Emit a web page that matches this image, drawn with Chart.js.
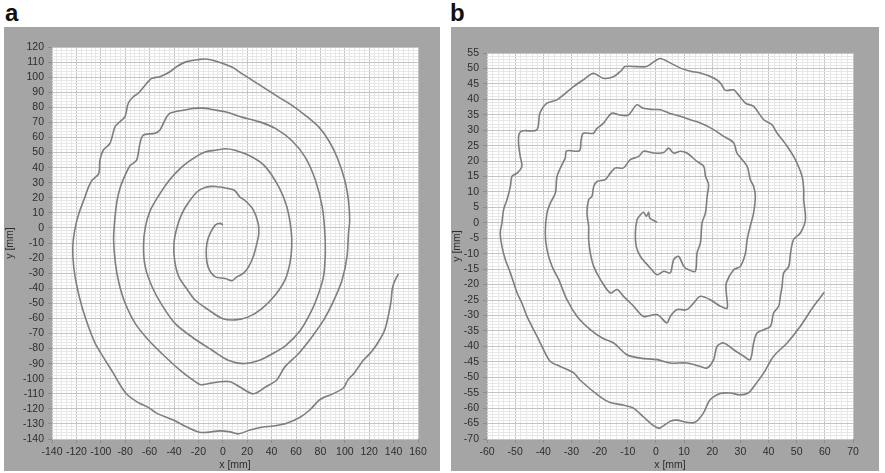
<!DOCTYPE html>
<html>
<head>
<meta charset="utf-8">
<script src="https://cdn.jsdelivr.net/npm/chart.js@4.4.1/dist/chart.umd.min.js"></script>
<style>
    body { margin: 0; width: 885px; height: 473px; position: relative; overflow: hidden; background: #fff; font-family: "Liberation Sans", Arial, sans-serif; }
    .painel { position: absolute; background: #a5a5a5; }
    .painel canvas { display: block; }
    .letra { position: absolute; font-size: 24px; line-height: 24px; font-weight: bold; color: #111; }
</style>
</head>
<body>
<div class="letra" style="left:5px; top:1px;">a</div>
<div class="letra" style="left:450px; top:1px;">b</div>
<div class="painel" style="left:4px; top:27px; width:436px; height:444px;"><canvas id="graficoA" width="436" height="444"></canvas></div>
<div class="painel" style="left:451px; top:27px; width:428px; height:444px;"><canvas id="graficoB" width="428" height="444"></canvas></div>

<script>
// === Dados (mm) ===
// Espiral a
const aX = [0, -2, -6, -10, -13, -13.5, -11.5, -6, 2, 7.5, 11.5, 17, 21, 25, 28, 29.5, 29, 25, 18.5, 14, 9.5, 2, -6, -14, -21, -28, -33.5, -37.5, -40, -39.5,
    -36, -29, -22.5, -11.5, -0.5, 10, 21, 32, 43, 51, 55, 56.5, 56, 52.5, 46, 35, 24, 10, 2, -6, -14, -22.5, -33.5, -44, -52.5, -59.5, -63.5, -65, -63.5, -58,
    -50, -39, -25, -9, 5, 17, 29.5, 40.5, 51.5, 63.5, 73, 78.5, 82.5, 84, 83.5, 81.5, 76, 67.5, 56.5, 43, 29.5, 15.5, 2, -9, -13, -24, -31, -43.3, -47.4, -51.5,
    -55.6, -65.2, -67.9, -70.6, -75.8, -80, -84, -86.7, -88.6, -89.5, -88, -85, -80, -71.7, -60.8, -47, -33.4, -22.5, -18, -13, -2.5, 6, 14, 25, 36, 44,
    51, 62, 73, 82.7, 91, 97.7, 101.8, 103, 104, 103, 100, 93.6, 86.8, 78.6, 67.6, 56.7, 45.8, 34.9, 24, 15.7, 7.5, -3.4, -10, -15, -18.7, -29.6, -37.8, -43.3,
    -51.5, -58.3, -62.4, -69.3, -73.4, -77.5, -80.2, -85.7, -88.4, -92.5, -97.9, -100.7, -101.7, -107.2, -110, -114, -118, -121.4, -123, -122.2, -119.5, -115.4,
    -110, -104.5, -96.3, -90, -85, -79, -70, -60, -54, -41, -27, -19, -13, -2.3, 6, 12.7, 22.3, 33, 41.4, 52.4, 63.3, 71.5, 79.7, 90.6, 98.8, 102.6, 108, 115,
    122, 128, 133, 136, 138, 139, 141, 144];
const aY = [2, 3, 2, -3, -10, -19, -27, -32.5, -33.5, -35, -32.5, -30, -26, -19, -10, -4, 3, 12, 18, 20.5, 25, 26.5, 27.5, 27, 24, 17, 9.5, 0.5, -10, -21.5,
    -32.5, -41, -48, -54.5, -60, -61, -59, -53.5, -44.5, -34.5, -23.5, -12.5, -1.5, 14, 27, 40.5, 47, 51.5, 52.5, 51.5, 50.5, 47, 40.5, 31.5, 21.5, 11.5, 0.5, -12.5, -26, -39,
    -51, -63.5, -72.5, -81, -88, -90, -88, -83.5, -78, -68, -54.5, -43.5, -32.5, -17, -1.5, 14, 31.5, 47, 58, 66, 70.5, 73.5, 77, 78.5, 79.3, 79.3, 78.2, 76, 71.6, 65,
    62.8, 61.6, 56.1, 45, 41.5, 35, 27, 18, 5, -8, -23.7, -37, -50, -63.5, -74.5, -85.6, -95.5, -102, -104, -103.5, -102, -102, -105.5, -110, -105, -101,
    -92, -83.4, -72.3, -61, -48, -34.7, -19, -3.8, 5, 18, 31.6, 47, 58, 67, 74.7, 81.3, 86.8, 92.4, 98, 102.3, 106.7, 110, 111.5, 112, 111.8, 110.3, 107, 103.6,
    100.3, 99.2, 95.9, 89.3, 87, 82.7, 73.8, 69.4, 67.1, 56.1, 51.7, 45, 36, 31.6, 27.2, 18.3, 9.5, -1.6, -12.6, -25.9, -39, -52.4,
    -65.7, -76.7, -87.8, -96, -103, -110, -115.5, -119.5, -123, -127.3, -133, -135.5, -135.6, -134.6, -135.3, -136.6, -134, -132, -131.4, -129.6, -125.6, -120.6, -113.8, -109.9, -106.2, -100.8, -96, -88,
    -82, -75, -67, -57, -48, -40, -35, -30.5];

// Espiral b
const bX = [0.4, -2.2, -2.6, -3.4, -4.4, -5.5, -6.7, -7.3, -7, -5.5, -2, 0.4, 2.8, 5.1, 6.3, 8.1, 9.9, 11.6, 14, 14.6, 15.8, 16.4, 17.6, 18.2, 18.7, 17.6, 17,
    14.6, 11, 8.7, 6.3, 4.5, 2.8, -0.8, -4.4, -6.1, -9.1, -11.5, -14.4, -16.2, -18, -20.9, -22.1, -22.7, -23.9, -24.5, -23.9, -23.9, -23.3, -22.1, -19.7, -16.2,
    -13.8, -11.5, -7.9, -4.4, 0.4, 3.9, 5.1, 7.5, 11, 13.4, 15.8, 19.3, 22.9, 25.3, 25, 25, 27.6, 30, 31.8, 32.4, 33.5, 34.7, 35.3, 34.7, 33.5, 32.4, 28.8, 27.6,
    24.1, 20.5, 15.8, 12.2, 8.7, 4.5, 1.6, -0.9, -4.5, -6.8, -9.8, -12.8, -15.7, -18.7, -21, -22.2, -25.8, -26.6, -27.2, -31.7, -32.2, -32.8, -35.1, -35.7, -37.5,
    -38.7, -39.3, -38.7, -36.9, -34.5, -31.6, -28, -23.3, -19.1, -15, -10.3, -5.5, 0.4, 5.1, 11, 15.8, 18.2, 20.5, 21.7, 24.1, 27.6, 31.2, 33.5, 34.7, 35.9,
    38.3, 40.7, 41.8, 43.6, 44.2, 44.8, 45.4, 47.2, 47.8, 48.9, 51.3, 53.1, 52.5, 52.5, 51.9, 49.5, 46.6, 43, 41.2, 38.3, 34.7, 31.8, 28.8, 27.6, 24.7, 22.9,
    20.5, 15.8, 12.2, 8.7, 5.1, 1.5, -0.5, -3.3, -6.8, -11, -12.1, -15.1, -18.7, -22.2, -25.8, -29.3, -35.2, -38.8, -41.2, -42.3, -47.1, -48.5, -48.8, -48.2,
    -47.6, -49.3, -51.1, -51.7, -52.9, -54.1, -54.7, -55.3, -54.7, -53.5, -51.7, -49.3, -47.6, -45.8, -42.2, -39.9, -37.5, -34, -29.2, -27, -19.9, -16.3, -11.6,
    -8, -4.5, -0.3, 1.5, 5, 7.4, 10.9, 13.9, 16.8, 19.2, 22.8, 26.3, 29.9, 32.8, 35.2, 38.3, 41.8, 46.6, 51.3, 56, 59.8];
const bY = [0.2, 1.6, 3.4, 2.1, 3.4, 2.6, 1, -3.3, -7.6, -10.9, -14.6, -16.8, -15.7, -16.2, -11.9, -10.9, -14.1, -15.2, -15.7, -9.8, -6.5, 0, 3.2, 8.6, 12.4, 15.1, 18.3,
    19.9, 22.6, 23.2, 22.6, 24.2, 22.8, 22.6, 23.2, 21.5, 20.5, 17.8, 17.8, 16.1, 14, 13.4, 11.8, 8.6, 7.5, 3.2, -1.1, -5.4, -9.8, -14.1, -18.4, -22.7,
    -21.6, -23.8, -27, -30.3, -29.7, -32.4, -30.3, -28.1, -28.1, -26, -23.8, -24.9, -27, -27.6, -22.7, -19.5, -15.2, -14.1, -9.8, -5.4, -1.1, 3.2, 8.6, 11.8, 14, 18.3, 22.6, 25.9,
    28, 30.2, 32.3, 33.4, 34.5, 35.6, 36.6, 36.7, 37.1, 38.2, 34.9, 34.9, 35.5, 32.2, 30.5, 29, 29, 26.5, 23.3, 23.3, 21, 19.9, 15.1, 9.7, 6.4,
    3.2, -3.3, -8.7, -14.1, -18.4, -24.9, -30.3, -34.6, -37.3, -38.9, -42.7, -43.8, -44.3, -45.4, -45.4, -46.5, -47, -44.3, -40, -38.9, -41.1, -43.2, -44.3, -38.9, -35.7,
    -34.6, -33.5, -29.2, -27, -23.8, -20.6, -16.2, -14.1, -9.8, -5.4, -3.3, 1, 7.5, 10.7, 15.1, 20.5, 24.8, 29.1, 31.8, 33.4, 37.7, 38.8, 42, 43.1, 42.9, 45.3,
    46.9, 48.5, 49.1, 50.1, 51.8, 53.2, 52.3, 50.6, 50.6, 50.6, 49.5, 47.3, 46.8, 48.4, 46.3, 44.1, 39.8, 38.7, 35.5, 30.1, 29.8, 29, 25.9, 21.5,
    18.3, 16.1, 15.1, 11.8, 7.5, 4.3, 0, -3.3, -7.6, -11.9, -16.2, -22.7, -26, -30.3, -36.8, -41.1, -44.9, -46.5, -48.6, -50.9, -56.3, -58.2, -59,
    -60, -62.8, -66, -66.4, -64.3, -63.9, -64.6, -64.6, -61.7, -57.4, -55.3, -55.1, -55.7, -55.1, -52.5, -48.6, -43.2, -38.9, -33.5, -27, -22.5];

// Eixos: [min, max, passo menor, passo maior]
const eixoAX = [-140, 160, 4, 20];
const eixoAY = [-140, 120, 2, 10];
const eixoBX = [-60, 70, 2, 10];
const eixoBY = [-70, 55, 1, 5];

const fonte = { family: "'Liberation Sans', Arial, sans-serif", size: 10.5 };
const corTexto = '#2e2e2e';

function passos(min, max, passo) {
    const lista = [];
    for (let v = min; v <= max + 1e-9; v += passo) lista.push(Math.round(v * 1000) / 1000);
    return lista;
}

function ehMaior(v, maior) {
    return Math.abs(v / maior - Math.round(v / maior)) < 1e-6;
}

function eixo(cfg, titulo, tamanho, horizontal) {
    const [min, max, menor, maior] = cfg;
    return {
        type: 'linear',
        min: min,
        max: max,
        afterBuildTicks: (s) => { s.ticks = passos(min, max, menor).map(v => ({ value: v })); },
        afterFit: (s) => { if (horizontal) s.height = tamanho; else s.width = tamanho; },
        ticks: {
            autoSkip: false,
            maxRotation: 0,
            padding: horizontal ? 3 : 4,
            color: corTexto,
            font: fonte,
            callback: (v) => ehMaior(v, maior) ? String(v) : ''
        },
        grid: {
            color: (ctx) => ctx.tick && ehMaior(ctx.tick.value, maior) ? '#c4c4c4' : '#e7e7e7',
            tickColor: (ctx) => ctx.tick && ehMaior(ctx.tick.value, maior) ? '#8c8c8c' : 'rgba(0,0,0,0)',
            tickLength: 4,
            lineWidth: 1
        },
        border: { display: false },
        title: { display: true, text: titulo, color: corTexto, font: fonte, padding: 0 }
    };
}

// Fundo branco da área do gráfico
const fundoBranco = {
    id: 'fundoBranco',
    beforeDraw(chart) {
        const { ctx, chartArea } = chart;
        ctx.save();
        ctx.fillStyle = '#ffffff';
        ctx.fillRect(chartArea.left, chartArea.top, chartArea.right - chartArea.left, chartArea.bottom - chartArea.top);
        ctx.restore();
    }
};

function criarGrafico(id, xs, ys, eixoX, eixoY, larguraY, padding) {
    new Chart(document.getElementById(id), {
        type: 'scatter',
        data: {
            datasets: [{
                data: xs.map((x, i) => ({ x: x, y: ys[i] })),
                showLine: true,
                borderColor: '#7e7e7e',
                borderWidth: 1.6,
                pointRadius: 0,
                tension: 0.3,
                fill: false
            }]
        },
        options: {
            responsive: false,
            animation: false,
            events: [],
            layout: { padding: padding },
            plugins: { legend: { display: false }, tooltip: { enabled: false } },
            scales: {
                x: eixo(eixoX, 'x [mm]', 32, true),
                y: eixo(eixoY, 'y [mm]', larguraY, false)
            }
        },
        plugins: [fundoBranco]
    });
}

criarGrafico('graficoA', aX, aY, eixoAX, eixoAY, 48, { left: 0, top: 20, right: 22, bottom: 0 });
criarGrafico('graficoB', bX, bY, eixoBX, eixoBY, 36, { left: 0, top: 26, right: 26, bottom: 0 });
</script>
</body>
</html>
